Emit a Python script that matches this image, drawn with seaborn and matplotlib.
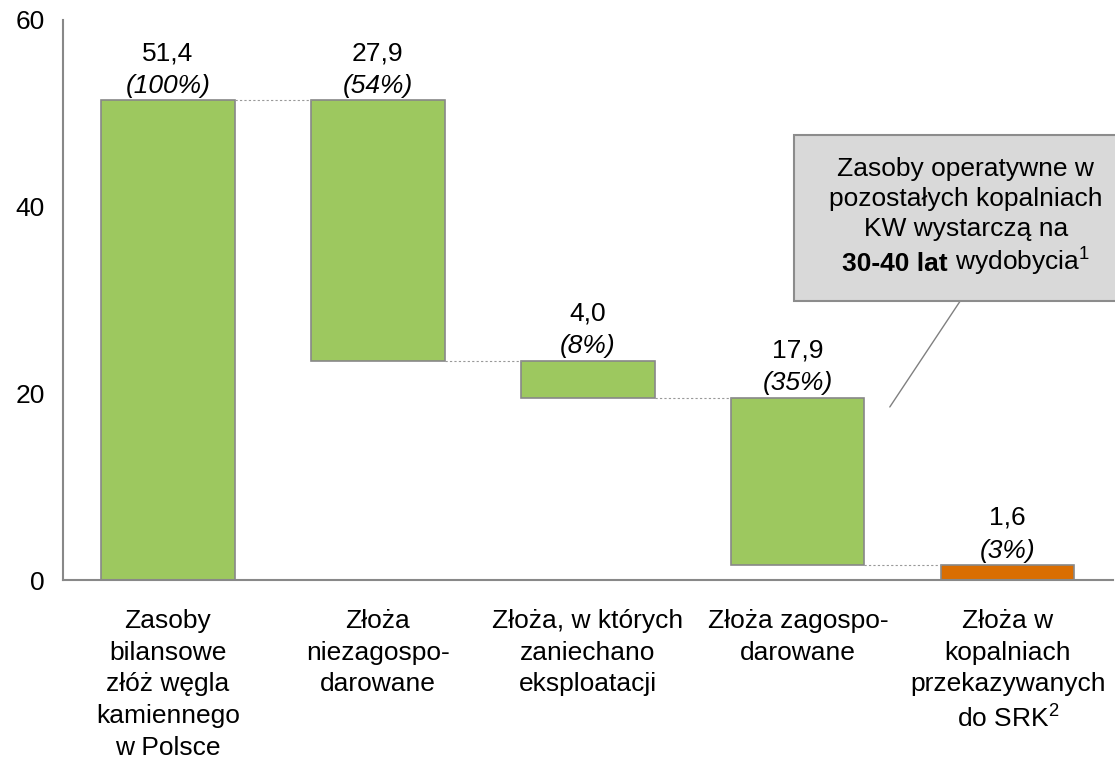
import numpy as np
import pandas as pd
import seaborn as sns
import matplotlib
matplotlib.use("Agg")
import matplotlib.pyplot as plt
from matplotlib.offsetbox import TextArea, VPacker, HPacker, DrawingArea, AnnotationBbox

# data (mld t)
categories = [
    "Zasoby\nbilansowe\nzłóż węgla\nkamiennego\nw Polsce",
    "Złoża\nniezagospo-\ndarowane",
    "Złoża, w których\nzaniechano\neksploatacji",
    "Złoża zagospo-\ndarowane",
    "Złoża w\nkopalniach\nprzekazywanych\ndo SRK$^{2}$",
]
values = [51.4, 27.9, 4.0, 17.9, 1.6]
shares = ["(100%)", "(54%)", "(8%)", "(35%)", "(3%)"]
y_ticks = [0, 20, 40, 60]

# waterfall: first bar is the total, the rest step down from it
tops = [values[0]]
bottoms = [0.0]
level = values[0]
for v in values[1:]:
    tops.append(level)
    level -= v
    bottoms.append(level)

df = pd.DataFrame({"cat": categories, "val": values, "base": bottoms})

sns.set_style("white")
plt.rcParams["font.family"] = ["Liberation Sans", "DejaVu Sans"]
plt.rcParams["mathtext.fontset"] = "custom"
plt.rcParams["mathtext.rm"] = "Liberation Sans"
plt.rcParams["mathtext.it"] = "Liberation Sans:italic"
plt.rcParams["mathtext.bf"] = "Liberation Sans:bold"
plt.rcParams["text.color"] = "black"
plt.rcParams["xtick.labelcolor"] = "black"
plt.rcParams["ytick.labelcolor"] = "black"

GREEN = "#9DC85F"
ORANGE = "#DA6E02"
GRAY = "#888888"
FS = 19

fig = plt.figure(figsize=(11.15, 7.62), dpi=100)
ax = fig.add_axes([0.0565, 0.2388, 0.9415, 0.735])

sns.barplot(data=df, x="cat", y="val", order=categories, bottom=df["base"].values,
            color=GREEN, saturation=1, width=0.635, edgecolor=GRAY, linewidth=1.2, ax=ax)
ax.patches[-1].set_facecolor(ORANGE)

# connectors between bars
half = 0.635 / 2
for i in range(len(values) - 1):
    lvl = bottoms[i] if i > 0 else tops[i]
    ax.plot([i + half, i + 1 - half], [lvl, lvl], ls=(0, (2, 2)), color="#999999", lw=0.8)

# value labels
for i, (v, s) in enumerate(zip(values, shares)):
    ax.annotate(f"{v:.1f}".replace(".", ","), (i, tops[i]), xytext=(0, 34),
                textcoords="offset points", ha="center", va="center", fontsize=FS)
    ax.annotate(s, (i, tops[i]), xytext=(0, 10.5), textcoords="offset points",
                ha="center", va="center", fontsize=FS, style="italic")

ax.set_xlim(-0.5, len(values) - 0.5)
ax.set_ylim(0, 60)
ax.set_yticks(y_ticks)
ax.set_yticklabels([str(t) for t in y_ticks], fontsize=FS)
ax.set_xticks(range(len(categories)))
ax.set_xticklabels(categories, fontsize=FS, linespacing=1.4)
ax.set_xticks(np.arange(-0.5, len(values), 1.0), minor=True)
ax.tick_params(axis="x", which="major", length=0, pad=21)
ax.tick_params(axis="x", which="minor", length=6, width=1.2, color=GRAY, direction="out")
ax.tick_params(axis="y", length=5, width=1.2, color=GRAY, direction="out", pad=8)
ax.set_xlabel("")
ax.set_ylabel("")

for side in ["top", "right"]:
    ax.spines[side].set_visible(False)
for side in ["left", "bottom"]:
    ax.spines[side].set_color(GRAY)
    ax.spines[side].set_linewidth(1.5)

# callout
ax.annotate("", xy=(3.438, 18.54), xytext=(3.786, 30.32),
            arrowprops=dict(arrowstyle="-", color="#808080", lw=1.0, shrinkA=0, shrinkB=0),
            annotation_clip=False)
tp = dict(fontsize=FS, family=["Liberation Sans", "DejaVu Sans"], color="black")
lines = [TextArea("Zasoby operatywne w", textprops=tp),
         TextArea("pozostałych kopalniach", textprops=tp),
         TextArea("KW wystarczą na", textprops=tp),
         HPacker(children=[TextArea("30-40 lat", textprops=dict(tp, weight="bold")),
                           TextArea(" wydobycia$^{1}$", textprops=tp)], align="baseline", pad=0, sep=0)]
box = VPacker(children=lines, align="center", pad=0, sep=4)
box = HPacker(children=[DrawingArea(9, 1), box, DrawingArea(9, 1)], align="center", pad=0, sep=0)
ab = AnnotationBbox(box, (3.80, 38.8), xycoords="data", box_alignment=(0.5, 0.5),
                    pad=0.85, fontsize=FS,
                    bboxprops=dict(facecolor="#D9D9D9", edgecolor="#8C8C8C", lw=1.5),
                    annotation_clip=False)
ax.add_artist(ab)

fig.savefig("out.png", dpi=100)
